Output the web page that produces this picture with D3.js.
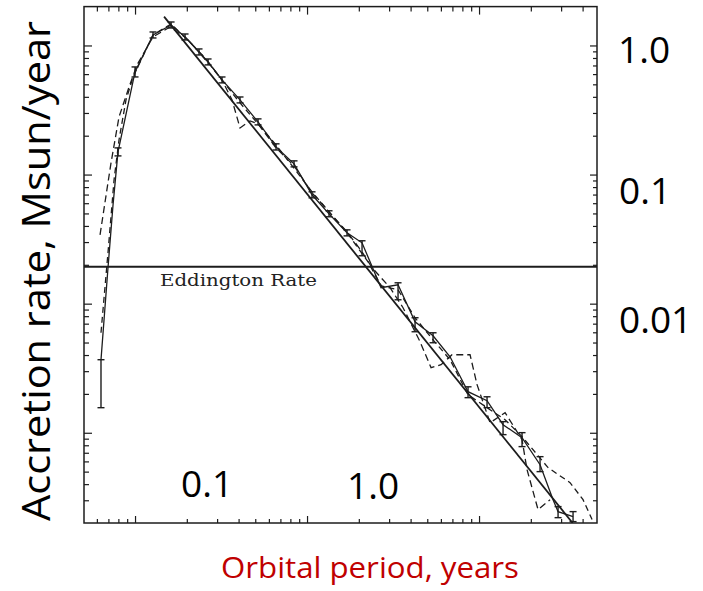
<!DOCTYPE html>
<html>
<head>
<meta charset="utf-8">
<script src="https://cdn.jsdelivr.net/npm/d3@7"></script>
<style>
  body { margin: 0; background: #fff; }
  svg { display: block; }
</style>
</head>
<body>
<svg id="chart" width="703" height="591"></svg>
<script>
// Orbital period (years) vs accretion rate (Msun/year), log-log.

// t^-5/3 fallback law, end points
const powerLaw = [[0.1475, 1.671], [35, 2.0e-4]];

// simulated fallback rate (solid line with error bars)
const simRate = [
  [0.0634, 0.00368], [0.0697, 0.0193], [0.0745, 0.0583], [0.0796, 0.1499],
  [0.1, 0.6235], [0.1272, 1.206], [0.162, 1.441], [0.1953, 1.164],
  [0.2355, 0.8907], [0.2658, 0.7452], [0.3204, 0.5408], [0.4077, 0.3786],
  [0.5189, 0.2558], [0.6604, 0.1638], [0.8402, 0.121], [1.069, 0.0697],
  [1.342, 0.0496], [1.708, 0.0354], [2.088, 0.0296], [2.693, 0.01328],
  [3.381, 0.01401], [4.246, 0.00724], [5.403, 0.00564], [6.783, 0.00388],
  [8.63, 0.00208], [11.13, 0.00177], [13.79, 0.001155], [17.78, 0.000917],
  [22.63, 0.000566], [26.93, 0.000303], [28.8, 0.000245], [35.2, 0.000224]
];

// error bars: period, low, high
const simErr = [
  [0.0634, 0.001564, 0.00368], [0.0796, 0.1395, 0.1609], [0.1, 0.5704, 0.6818],
  [0.1272, 1.143, 1.272], [0.162, 1.366, 1.52], [0.1953, 1.103, 1.227],
  [0.2355, 0.844, 0.94], [0.2658, 0.707, 0.786], [0.3204, 0.513, 0.57],
  [0.4077, 0.359, 0.399], [0.5189, 0.2425, 0.27], [0.6604, 0.155, 0.173],
  [0.8402, 0.1147, 0.1277], [1.069, 0.066, 0.0735], [1.342, 0.0471, 0.0524],
  [1.708, 0.0335, 0.0373], [2.088, 0.0235, 0.0307], [3.381, 0.01072, 0.01451],
  [4.246, 0.00606, 0.00778], [5.403, 0.00498, 0.00595], [8.63, 0.00187, 0.00227],
  [11.13, 0.001564, 0.0019], [13.79, 0.000967, 0.001219], [17.78, 0.000781, 0.001002],
  [22.63, 0.0005, 0.000653], [28.8, 0.00022, 0.000268], [35.2, 0.000205, 0.000245]
];

// two dashed comparison runs
const dashA = [
  [0.0626, 0.0341], [0.0725, 0.1232], [0.0807, 0.2796], [0.0923, 0.4773],
  [0.1027, 0.7065], [0.1272, 1.164], [0.1598, 1.391], [0.1979, 1.143],
  [0.2553, 0.8004], [0.3204, 0.5408], [0.3664, 0.3786], [0.4077, 0.2298],
  [0.4662, 0.2604], [0.5189, 0.2469], [0.6604, 0.1609], [0.8402, 0.1168],
  [1.069, 0.0722], [1.342, 0.0514], [1.708, 0.036], [2.088, 0.0252],
  [2.388, 0.019], [3.039, 0.01328], [3.615, 0.0093], [4.54, 0.00507],
  [5.26, 0.00319], [6.014, 0.00337], [6.966, 0.00402], [8.866, 0.00402],
  [9.736, 0.00236], [11.59, 0.001197], [14.17, 0.001431], [17.78, 0.000884],
  [19.01, 0.000518], [22.03, 0.000254], [25.87, 0.000303]
];
const dashB = [
  [0.0634, 0.00595], [0.0697, 0.0252], [0.0755, 0.091], [0.0807, 0.1856],
  [0.0886, 0.3786], [0.0974, 0.5704], [0.1272, 1.206], [0.162, 1.467],
  [0.2089, 1.064], [0.2729, 0.7065], [0.4077, 0.3589], [0.6604, 0.1698],
  [1.069, 0.0735], [1.708, 0.0354], [2.263, 0.0211], [2.693, 0.01376],
  [3.381, 0.01281], [4.246, 0.00778], [5.403, 0.00525], [6.783, 0.00368],
  [8.63, 0.00197], [11.59, 0.001509], [14.17, 0.001263], [17.78, 0.000933],
  [25.19, 0.000537], [33.81, 0.000411], [40.24, 0.000303], [45.4, 0.000213]
];

const eddingtonRate = 0.0193;
const rightLabels = [
  { text: "1.0", x: 618, y: 63 },
  { text: "0.1", x: 619, y: 204 },
  { text: "0.01", x: 619, y: 333 }
];
const bottomLabels = [
  { text: "0.1", x: 181, y: 497 },
  { text: "1.0", x: 347, y: 499 }
];

const ink = "#1c1c1c";
const svg = d3.select("#chart");

const plot = { left: 84, right: 597, top: 6.6, bottom: 523 };
const x = d3.scaleLog().domain([0.0505, 48.5]).range([plot.left, plot.right]);
const y = d3.scaleLog().domain([2e-4, 2]).range([plot.bottom, plot.top]);

const isMajor = v => Math.abs(Math.log10(v) - Math.round(Math.log10(v))) < 1e-6;
const inside = (s, v) => { const p = s(v); const r = s.range(); return p > Math.min(...r) + 1 && p < Math.max(...r) - 1; };

const xTicks = x.ticks().filter(v => inside(x, v));
const yTicks = y.ticks().filter(v => inside(y, v));

function ticks(axis, transform, values, size) {
  const g = svg.append("g")
    .attr("transform", transform)
    .call(axis.tickValues(values).tickSize(size).tickFormat(""));
  g.select(".domain").remove();
  g.selectAll("line").attr("stroke", ink).attr("stroke-width", 1.2);
}

// inward ticks on all four sides
ticks(d3.axisBottom(x), `translate(0,${plot.bottom})`, xTicks.filter(v => !isMajor(v)), -4);
ticks(d3.axisBottom(x), `translate(0,${plot.bottom})`, xTicks.filter(isMajor), -7);
ticks(d3.axisTop(x), `translate(0,${plot.top})`, xTicks.filter(v => !isMajor(v)), -5);
ticks(d3.axisTop(x), `translate(0,${plot.top})`, xTicks.filter(isMajor), -8);
ticks(d3.axisLeft(y), `translate(${plot.left},0)`, yTicks.filter(v => !isMajor(v)), -5);
ticks(d3.axisLeft(y), `translate(${plot.left},0)`, yTicks.filter(isMajor), -8);
ticks(d3.axisRight(y), `translate(${plot.right},0)`, yTicks.filter(v => !isMajor(v)), -4);
ticks(d3.axisRight(y), `translate(${plot.right},0)`, yTicks.filter(isMajor), -7);

// frame
svg.append("rect")
  .attr("x", plot.left).attr("y", plot.top)
  .attr("width", plot.right - plot.left).attr("height", plot.bottom - plot.top)
  .attr("fill", "none").attr("stroke", ink).attr("stroke-width", 1.5);

svg.append("clipPath").attr("id", "plotClip")
  .append("rect")
  .attr("x", plot.left).attr("y", plot.top - 12)
  .attr("width", plot.right - plot.left).attr("height", plot.bottom - plot.top + 12);

const layer = svg.append("g").attr("clip-path", "url(#plotClip)");
const line = d3.line().x(d => x(d[0])).y(d => y(d[1]));

// Eddington limit
layer.append("line")
  .attr("x1", plot.left).attr("x2", plot.right)
  .attr("y1", y(eddingtonRate)).attr("y2", y(eddingtonRate))
  .attr("stroke", ink).attr("stroke-width", 2);

layer.append("path").datum(dashA).attr("d", line)
  .attr("fill", "none").attr("stroke", ink).attr("stroke-width", 1.3)
  .attr("stroke-dasharray", "7,4");
layer.append("path").datum(dashB).attr("d", line)
  .attr("fill", "none").attr("stroke", ink).attr("stroke-width", 1.3)
  .attr("stroke-dasharray", "6,4");

layer.append("path").datum(powerLaw).attr("d", line)
  .attr("fill", "none").attr("stroke", ink).attr("stroke-width", 1.8);

layer.append("path").datum(simRate).attr("d", line)
  .attr("fill", "none").attr("stroke", ink).attr("stroke-width", 1.3);

// error bars with caps
const eb = layer.append("g").attr("stroke", ink).attr("stroke-width", 1.4);
simErr.forEach(([p, lo, hi]) => {
  const cx = x(p), cap = 3.5;
  eb.append("line").attr("x1", cx).attr("x2", cx).attr("y1", y(lo)).attr("y2", y(hi));
  eb.append("line").attr("x1", cx - cap).attr("x2", cx + cap).attr("y1", y(lo)).attr("y2", y(lo));
  eb.append("line").attr("x1", cx - cap).attr("x2", cx + cap).attr("y1", y(hi)).attr("y2", y(hi));
});

svg.append("text")
  .attr("x", 160).attr("y", 286)
  .attr("font-family", "DejaVu Serif").attr("font-size", 17)
  .attr("textLength", 157).attr("lengthAdjust", "spacingAndGlyphs")
  .attr("fill", "#222").text("Eddington Rate");

// value annotations
const numFont = "'Open Sans', sans-serif";
svg.selectAll("text.rlab").data(rightLabels).join("text")
  .attr("class", "rlab").attr("x", d => d.x).attr("y", d => d.y)
  .attr("font-family", numFont).attr("font-size", 37).attr("fill", "#000")
  .text(d => d.text);
svg.selectAll("text.blab").data(bottomLabels).join("text")
  .attr("class", "blab").attr("x", d => d.x).attr("y", d => d.y)
  .attr("font-family", numFont).attr("font-size", 37).attr("fill", "#000")
  .text(d => d.text);

// axis titles
svg.append("text")
  .attr("transform", "translate(50,271) rotate(-90)")
  .attr("text-anchor", "middle")
  .attr("font-family", numFont).attr("font-size", 38)
  .attr("textLength", 500).attr("lengthAdjust", "spacingAndGlyphs")
  .attr("fill", "#000").text("Accretion rate, Msun/year");

svg.append("text")
  .attr("x", 370).attr("y", 578)
  .attr("text-anchor", "middle")
  .attr("font-family", numFont).attr("font-size", 30)
  .attr("textLength", 298).attr("lengthAdjust", "spacingAndGlyphs")
  .attr("fill", "#c00000").text("Orbital period, years");
</script>
</body>
</html>
